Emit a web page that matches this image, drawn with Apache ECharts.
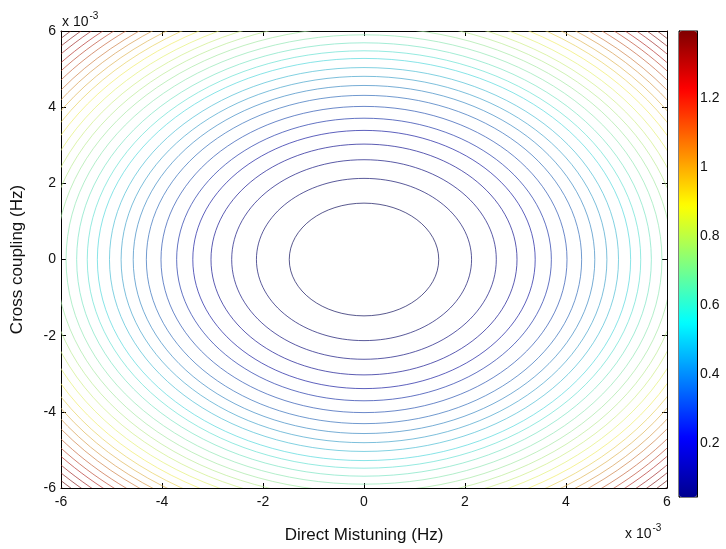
<!DOCTYPE html>
<html>
<head>
<meta charset="utf-8">
<script src="https://cdn.jsdelivr.net/npm/echarts@6/dist/echarts.min.js"></script>
<style>
  html, body { margin: 0; padding: 0; background: #fff; }
  #chart { width: 726px; height: 549px; }
</style>
</head>
<body>
<div id="chart"></div>
<script>
// Axis ranges (units of 10^-3 Hz)
const xRange = [-6, 6];
const yRange = [-6, 6];
const tickStep = 2;

// Centre of the contour family (10^-3 Hz)
const centre = [0, 0];

// Contour levels and their radii (10^-3 Hz)
const levels = [0.045, 0.090, 0.135, 0.180, 0.225, 0.270, 0.315, 0.360, 0.405, 0.450,
                0.495, 0.540, 0.585, 0.630, 0.675, 0.720, 0.765, 0.810, 0.855, 0.900,
                0.945, 0.990, 1.035, 1.080, 1.125, 1.170, 1.215, 1.260, 1.305, 1.350, 1.394];
const radii = [1.48, 2.13, 2.62, 3.03, 3.39, 3.71, 4.02, 4.31, 4.57, 4.81,
               5.04, 5.28, 5.48, 5.69, 5.90, 6.10, 6.29, 6.47, 6.65, 6.83,
               7.00, 7.16, 7.32, 7.47, 7.63, 7.78, 7.92, 8.07, 8.21, 8.35, 8.47];

// Colour bar
const colorRange = [0.044, 1.394];
const colorTicks = [0.2, 0.4, 0.6, 0.8, 1, 1.2];
const jet = ['#00008F', '#0000FF', '#0080FF', '#00FFFF', '#80FF80',
             '#FFFF00', '#FF8000', '#FF0000', '#800000'];

const font = 'Liberation Sans, Arial, sans-serif';
const contourData = radii.map((r, i) => [r, levels[i]]);

const plotBox = { left: 61, top: 31, right: 59, bottom: 53 };
const barBox = { left: 679, top: 31, width: 18, height: 466 };

// Thin contour strokes: soften the colormap colour toward its own grey value
function strokeColour(c) {
  const p = echarts.color.parse(c);
  const g = 0.299 * p[0] + 0.587 * p[1] + 0.114 * p[2];
  const k = 0.45;
  const mix = v => Math.round(v * (1 - k) + g * k);
  return 'rgb(' + mix(p[0]) + ',' + mix(p[1]) + ',' + mix(p[2]) + ')';
}

const chart = echarts.init(document.getElementById('chart'), null, { renderer: 'canvas' });

const tickStyle = { show: true, inside: true, length: 5, lineStyle: { color: '#000', width: 1 } };
const lineStyle = { show: true, onZero: false, lineStyle: { color: '#000', width: 1 } };
const labelStyle = { color: '#111', fontSize: 14, fontFamily: font };

chart.setOption({
  backgroundColor: '#fff',
  animation: false,
  grid: [
    plotBox,
    Object.assign({ show: true, borderColor: '#000', borderWidth: 1, backgroundColor: 'transparent' }, barBox)
  ],
  xAxis: [
    {
      gridIndex: 0, type: 'value', min: xRange[0], max: xRange[1], interval: tickStep,
      position: 'bottom',
      axisLine: lineStyle, axisTick: tickStyle, splitLine: { show: false },
      axisLabel: Object.assign({ margin: 7 }, labelStyle),
      name: 'Direct Mistuning (Hz)', nameLocation: 'middle', nameGap: 39,
      nameTextStyle: { color: '#111', fontSize: 17, fontFamily: font }
    },
    {
      gridIndex: 0, type: 'value', min: xRange[0], max: xRange[1], interval: tickStep,
      position: 'top',
      axisLine: lineStyle, axisTick: tickStyle, splitLine: { show: false },
      axisLabel: { show: false }
    },
    {
      gridIndex: 1, type: 'value', min: 0, max: 1, show: false
    }
  ],
  yAxis: [
    {
      gridIndex: 0, type: 'value', min: yRange[0], max: yRange[1], interval: tickStep,
      position: 'left',
      axisLine: lineStyle, axisTick: tickStyle, splitLine: { show: false },
      axisLabel: Object.assign({ margin: 5 }, labelStyle),
      name: 'Cross coupling (Hz)', nameLocation: 'middle', nameGap: 35,
      nameTextStyle: { color: '#111', fontSize: 17, fontFamily: font }
    },
    {
      gridIndex: 0, type: 'value', min: yRange[0], max: yRange[1], interval: tickStep,
      position: 'right',
      axisLine: lineStyle, axisTick: tickStyle, splitLine: { show: false },
      axisLabel: { show: false }
    },
    {
      gridIndex: 1, type: 'value', min: colorRange[0], max: colorRange[1],
      position: 'right',
      axisLine: lineStyle,
      axisTick: Object.assign({ customValues: colorTicks }, tickStyle, { length: 4 }),
      splitLine: { show: false },
      axisLabel: Object.assign({ customValues: colorTicks, margin: 3 }, labelStyle)
    },
    {
      gridIndex: 1, type: 'value', min: colorRange[0], max: colorRange[1],
      position: 'left',
      axisLine: lineStyle,
      axisTick: Object.assign({ customValues: colorTicks }, tickStyle, { length: 4 }),
      splitLine: { show: false },
      axisLabel: { show: false }
    }
  ],
  visualMap: {
    type: 'continuous',
    min: colorRange[0], max: colorRange[1],
    dimension: 1,
    seriesIndex: 0,
    calculable: false,
    realtime: false,
    left: barBox.left, top: barBox.top,
    itemWidth: barBox.width, itemHeight: barBox.height,
    padding: 0,
    text: null,
    inRange: { color: jet },
    hoverLink: false
  },
  series: [
    {
      type: 'custom',
      xAxisIndex: 0, yAxisIndex: 0,
      clip: true,
      silent: true,
      data: contourData,
      renderItem: function (params, api) {
        const r = api.value(0);
        const c = api.coord(centre);
        const s = api.size([r, r]);
        return {
          type: 'ellipse',
          shape: { cx: c[0], cy: c[1], rx: s[0], ry: s[1] },
          style: { fill: 'none', stroke: strokeColour(api.visual('color')), lineWidth: 0.9, opacity: 0.75 }
        };
      }
    }
  ],
  graphic: [
    {
      type: 'text', left: 62, top: 11,
      style: {
        text: '{b|x 10}{s|-3}',
        rich: {
          b: { fontSize: 14, fontFamily: font, fill: '#111', verticalAlign: 'bottom', lineHeight: 18 },
          s: { fontSize: 10, fontFamily: font, fill: '#111', verticalAlign: 'top', padding: [0, 0, 8, 1] }
        }
      }
    },
    {
      type: 'text', left: 625, top: 523,
      style: {
        text: '{b|x 10}{s|-3}',
        rich: {
          b: { fontSize: 14, fontFamily: font, fill: '#111', verticalAlign: 'bottom', lineHeight: 18 },
          s: { fontSize: 10, fontFamily: font, fill: '#111', verticalAlign: 'top', padding: [0, 0, 8, 1] }
        }
      }
    }
  ]
});
</script>
</body>
</html>
